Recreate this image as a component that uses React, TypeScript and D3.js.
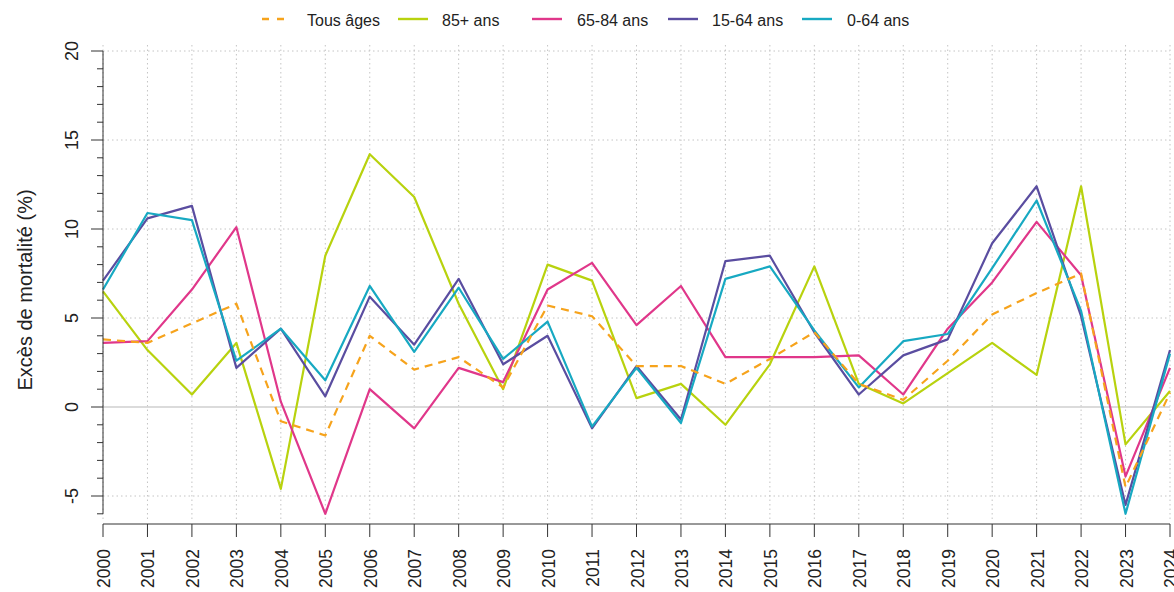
import React from "react";
import * as d3 from "d3";

const years = d3.range(2000, 2025);
const tousAges = [3.8, 3.6, 4.7, 5.8, -0.8, -1.6, 4.0, 2.1, 2.8, 1.1, 5.7, 5.1, 2.3, 2.3, 1.3, 2.7, 4.2, 1.3, 0.4, 2.6, 5.2, 6.4, 7.5, -4.5, 0.8];
const ans85 = [6.5, 3.2, 0.7, 3.6, -4.6, 8.5, 14.2, 11.8, 5.8, 1.0, 8.0, 7.1, 0.5, 1.3, -1.0, 2.4, 7.9, 1.3, 0.2, 1.9, 3.6, 1.8, 12.4, -2.1, 0.9];
const ans6584 = [3.6, 3.7, 6.6, 10.1, 0.3, -6.0, 1.0, -1.2, 2.2, 1.4, 6.6, 8.1, 4.6, 6.8, 2.8, 2.8, 2.8, 2.9, 0.7, 4.4, 7.0, 10.4, 7.4, -3.9, 2.2];
const ans1564 = [7.1, 10.6, 11.3, 2.2, 4.4, 0.6, 6.2, 3.5, 7.2, 2.4, 4.0, -1.2, 2.3, -0.7, 8.2, 8.5, 4.2, 0.7, 2.9, 3.8, 9.2, 12.4, 5.1, -5.5, 3.2];
const ans064 = [6.6, 10.9, 10.5, 2.6, 4.4, 1.5, 6.8, 3.1, 6.7, 2.7, 4.8, -1.1, 2.2, -0.9, 7.2, 7.9, 4.3, 1.1, 3.7, 4.1, 7.8, 11.6, 5.4, -6.0, 3.0];
const yTicks = [-5, 0, 5, 10, 15, 20];

const series = [
  { name: "Tous âges", values: tousAges, color: "#F6A31C", dash: "8,6" },
  { name: "85+ ans", values: ans85, color: "#B8D20E", dash: null },
  { name: "65-84 ans", values: ans6584, color: "#E0378A", dash: null },
  { name: "15-64 ans", values: ans1564, color: "#5A4DA0", dash: null },
  { name: "0-64 ans", values: ans064, color: "#17A9C2", dash: null },
];
const drawOrder = [1, 2, 3, 4, 0];
const legendLineX = [262, 398, 532, 668, 802];
const legendTextX = [307, 442, 577, 712, 847];

export default function App() {
  const W = 1174, H = 592;
  const x = d3.scaleLinear().domain([2000, 2024]).range([103, 1170]);
  const y = d3.scaleLinear().domain([-6, 20]).range([513.8, 51]);
  const line = d3.line<number>().x((_, i) => x(years[i])).y((d) => y(d));
  const minor = d3.range(-6, 21);
  const font = "'Liberation Sans', Arial, sans-serif";
  return (
    <svg width={W} height={H} style={{ position: "absolute", left: 0, top: 0 }} fontFamily={font}>
      <rect width={W} height={H} fill="#fff" />
      {years.map((yr) => (
        <line key={"vg" + yr} x1={x(yr)} x2={x(yr)} y1={45} y2={520} stroke="#c4c4c4" strokeDasharray="1.5,3" />
      ))}
      {yTicks.filter((t) => t !== 0).map((t) => (
        <line key={"hg" + t} x1={103} x2={1170} y1={y(t)} y2={y(t)} stroke="#c4c4c4" strokeDasharray="1.5,3" />
      ))}
      <line x1={103} x2={1170} y1={y(0)} y2={y(0)} stroke="#cfcfcf" strokeWidth={1.5} />
      {drawOrder.map((k) => {
        const s = series[k];
        return (
          <path key={s.name} d={line(s.values) || ""} fill="none" stroke={s.color} strokeWidth={2.2}
            strokeDasharray={s.dash || undefined} strokeLinejoin="round" />
        );
      })}
      {/* y axis */}
      <line x1={103} x2={103} y1={y(20)} y2={y(-6)} stroke="#333" />
      {minor.map((t) => (
        <line key={"yt" + t} x1={t % 5 === 0 ? 91 : 97} x2={103} y1={y(t)} y2={y(t)} stroke="#333" />
      ))}
      {yTicks.map((t) => (
        <text key={"yl" + t} transform={`translate(${78},${y(t)}) rotate(-90)`} textAnchor="middle" fontSize={18} fill="#222">
          {t}
        </text>
      ))}
      <text transform={`translate(32,${290}) rotate(-90)`} textAnchor="middle" fontSize={20} fill="#222">
        Excès de mortalité (%)
      </text>
      {/* x axis */}
      <line x1={103} x2={1170} y1={524} y2={524} stroke="#333" />
      {years.map((yr) => (
        <g key={"xt" + yr}>
          <line x1={x(yr)} x2={x(yr)} y1={524} y2={537} stroke="#333" />
          <text transform={`translate(${x(yr) + 7},${549}) rotate(-90)`} textAnchor="end" fontSize={17.5} fill="#222">
            {yr}
          </text>
        </g>
      ))}
      {/* legend */}
      {series.map((s, i) => (
        <g key={"lg" + s.name}>
          <line x1={legendLineX[i]} x2={legendLineX[i] + (i === 0 ? 22 : 30)} y1={19} y2={19} stroke={s.color} strokeWidth={2.4}
            strokeDasharray={s.dash ? "7,8" : undefined} />
          <text x={legendTextX[i]} y={25.5} fontSize={16} fill="#222">{s.name}</text>
        </g>
      ))}
    </svg>
  );
}
